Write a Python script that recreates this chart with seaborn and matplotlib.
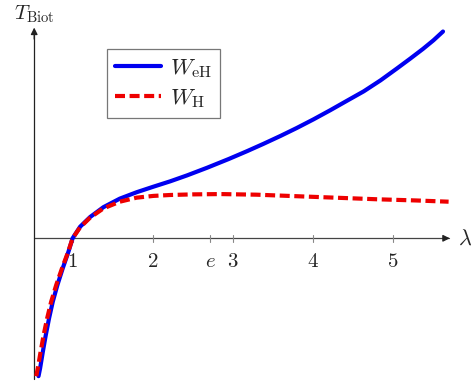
import numpy as np
import matplotlib
matplotlib.use("Agg")
import matplotlib.pyplot as plt
import seaborn as sns

sns.set_theme(style="white")
plt.rcParams["mathtext.fontset"] = "cm"
plt.rcParams["font.family"] = ["DejaVu Serif"]

# Werte (lambda, T_Biot)
lam_eH = [0.574, 0.594, 0.628, 0.665, 0.706, 0.752, 0.81, 0.877, 0.948, 1.0, 1.094,
          1.22, 1.385, 1.59, 1.80, 2.01, 2.22, 2.43, 2.68, 2.95, 3.18, 3.385, 3.60,
          3.80, 4.01, 4.22, 4.43, 4.64, 4.85, 5.05, 5.22, 5.38, 5.51, 5.63]
T_eH = [-2.26, -2.13, -1.86, -1.585, -1.31, -1.04, -0.766, -0.49, -0.22, 0.0, 0.19,
        0.35, 0.51, 0.65, 0.755, 0.846, 0.934, 1.031, 1.156, 1.299, 1.428, 1.548, 1.679,
        1.807, 1.949, 2.099, 2.255, 2.41, 2.59, 2.78, 2.945, 3.105, 3.245, 3.39]

lam_H = [0.545, 0.565, 0.60, 0.638, 0.682, 0.732, 0.795, 0.868, 0.945, 1.0, 1.094,
         1.22, 1.385, 1.59, 1.80, 2.01, 2.22, 2.50, 2.85, 3.30, 3.80, 4.30, 4.80, 5.30, 5.70]
T_H = [-2.26, -2.13, -1.86, -1.585, -1.31, -1.04, -0.766, -0.49, -0.22, 0.0, 0.18,
       0.34, 0.49, 0.60, 0.666, 0.695, 0.71, 0.72, 0.725, 0.715, 0.69, 0.665, 0.64, 0.62, 0.60]

tick_pos = [1, 2, np.e, 3, 4, 5]
tick_lbl = ["$1$", "$2$", "$e$", "$3$", "$4$", "$5$"]

# Achsen
lam_min, lam_max = 0.52, 5.70
T_min, T_max = -2.30, 3.42

fig = plt.figure(figsize=(4.71, 3.85), dpi=100)
ax = fig.add_axes([0, 0, 1, 1])
ax.set_xlim(1 - 72.6 / 80, 1 + (471 - 72.6) / 80)
ax.set_ylim((238.3 - 385) / 61, 238.3 / 61)
ax.axis("off")

ax.plot([lam_min, lam_max], [0, 0], color="#444444", lw=0.9, zorder=1)
ax.plot([lam_min, lam_min], [T_min, T_max], color="#222222", lw=0.9, zorder=1)
ax.annotate("", xy=(lam_max + 0.05, 0), xytext=(lam_max - 0.1, 0),
            arrowprops=dict(arrowstyle="-|>", color="#222222", lw=0.9, mutation_scale=10))
ax.annotate("", xy=(lam_min, T_max + 0.08), xytext=(lam_min, T_max - 0.2),
            arrowprops=dict(arrowstyle="-|>", color="#222222", lw=0.9, mutation_scale=10))

for p, s in zip(tick_pos, tick_lbl):
    ax.plot([p, p], [-0.06, 0.06], color="#888888", lw=0.8, zorder=1)
    ax.text(p, -0.22, s, ha="center", va="top", fontsize=15)

sns.lineplot(x=lam_eH, y=T_eH, ax=ax, color="#0000f0", lw=3.0, sort=False,
             label=r"$W_{\mathrm{eH}}$", zorder=3)
sns.lineplot(x=lam_H, y=T_H, ax=ax, color="#ee0000", lw=3.0, sort=False,
             dashes=False, label=r"$W_{\mathrm{H}}$", zorder=4)
ax.lines[-1].set_dashes([2.4, 1.1])
ax.lines[-1].set_dash_capstyle("butt")
for ln in ax.lines[-2:]:
    ln.set_solid_joinstyle("round")

ax.text(lam_min, 238.3 / 61 - 0.06, r"$T_{\mathrm{Biot}}$", ha="center", va="top", fontsize=15)
ax.text(lam_max + 0.12, 0.0, r"$\lambda$", ha="left", va="center", fontsize=16)

leg = ax.legend(loc="upper left", bbox_to_anchor=(107 / 471, 1 - 49 / 385),
                fontsize=16.5, frameon=True, fancybox=False, handlelength=2.0,
                handletextpad=0.4, borderpad=0.35, labelspacing=0.3, borderaxespad=0)
leg.get_frame().set_edgecolor("#555555")
leg.get_frame().set_linewidth(0.9)

fig.savefig("out.png", dpi=100)
